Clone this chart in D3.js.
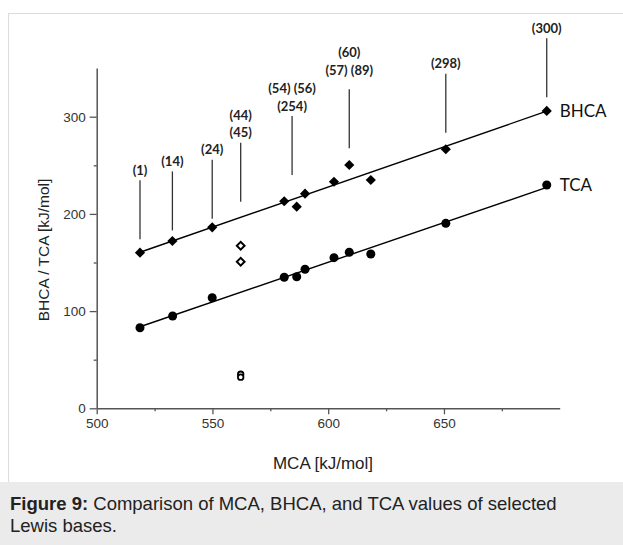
<!DOCTYPE html>
<html><head><meta charset="utf-8">
<script src="https://cdn.jsdelivr.net/npm/d3@7"></script>
<style>
html,body{margin:0;padding:0;background:#fff;}
svg{display:block;}
</style></head>
<body>
<svg id="chart" width="623" height="545"></svg>
<script>
// ---- data ----
const bhcaMCA = [518.7, 532.7, 549.9, 581.0, 586.4, 590.0, 602.5, 609.1, 618.4, 650.8, 694.4];
const bhcaVal = [160.1, 172.1, 186.2, 213.0, 207.4, 220.8, 233.1, 250.3, 234.9, 266.5, 305.9];
const tcaMCA  = [518.7, 532.8, 549.9, 581.0, 586.4, 590.0, 602.5, 609.1, 618.4, 650.8, 694.4];
const tcaVal  = [82.9, 95.0, 113.8, 134.8, 135.4, 143.0, 155.0, 160.5, 158.7, 190.3, 229.7];
const openBhcaMCA = [562.2, 562.2];
const openBhcaVal = [167.3, 150.8];
const openTcaMCA = [562.2, 562.2];
const openTcaVal = [35, 32];
const xMajorTicks = [500, 550, 600, 650];
const xMinorTicks = [525, 575, 625, 675];
const yMajorTicks = [0, 100, 200, 300];
const yMinorTicks = [50, 150, 250];
const annMCA = [518.7, 532.7, 549.9, 562.2, 584.4, 609.1, 650.8, 694.4];
const annBottom = [174, 183, 195, 212.5, 240, 267.5, 283.5, 320];
const annLabels = [["(1)"], ["(14)"], ["(24)"], ["(44)", "(45)"], ["(54) (56)", "(254)"], ["(60)", "(57) (89)"], ["(298)"], ["(300)"]];
const seriesNames = ["BHCA", "TCA"];
const xTitle = "MCA [kJ/mol]";
const yTitle = "BHCA / TCA [kJ/mol]";
const captionBold = "Figure 9:";
const captionLine1 = " Comparison of MCA, BHCA, and TCA values of selected";
const captionLine2 = "Lewis bases.";

// ---- layout ----
const svg = d3.select("#chart");
const x = d3.scaleLinear().domain([500, 700]).range([96.7, 559.7]);
const y = d3.scaleLinear().domain([0, 350]).range([408.3, 68.1]);
const axisColor = "#555";
const last = a => a[a.length - 1];
const labelGap = i => (i === 5 ? 19 : 10);

// frame border
svg.append("rect").attr("x", 8.5).attr("y", 13.5).attr("width", 700).attr("height", 470)
  .attr("fill", "none").attr("stroke", "#dcdcdc").attr("stroke-width", 1);

// caption
svg.append("rect").attr("x", 0).attr("y", 482).attr("width", 623).attr("height", 63).attr("fill", "#ebebeb");
const cap = svg.append("text").attr("x", 10).attr("y", 509.5)
  .attr("font-family", "Liberation Sans, Arial, sans-serif").attr("font-size", 18.5).attr("fill", "#222");
cap.append("tspan").attr("font-weight", "bold").text(captionBold);
cap.append("tspan").text(captionLine1);
svg.append("text").attr("x", 10).attr("y", 532)
  .attr("font-family", "Liberation Sans, Arial, sans-serif").attr("font-size", 18.5).attr("fill", "#222")
  .text(captionLine2);

// axes
function styleAxis(g) {
  g.selectAll("path.domain").attr("stroke", axisColor).attr("stroke-width", 1.5);
  g.selectAll(".tick line").attr("stroke", axisColor).attr("stroke-width", 1.3);
  g.selectAll(".tick text").attr("fill", "#333").attr("font-family", "Liberation Sans, Arial, sans-serif").attr("font-size", 13.5);
}
const gx = svg.append("g").attr("transform", `translate(0,${y(0)})`)
  .call(d3.axisBottom(x).tickValues(xMajorTicks).tickSize(6).tickSizeOuter(0).tickPadding(4).tickFormat(d3.format("d")));
styleAxis(gx);
const gxm = svg.append("g").attr("transform", `translate(0,${y(0)})`)
  .call(d3.axisBottom(x).tickValues(xMinorTicks).tickSize(3).tickFormat(""));
gxm.select("path.domain").remove();
styleAxis(gxm);

const gy = svg.append("g").attr("transform", `translate(${x(500)},0)`)
  .call(d3.axisLeft(y).tickValues(yMajorTicks).tickSize(7).tickSizeOuter(0).tickPadding(4).tickFormat(d3.format("d")));
styleAxis(gy);
const gym = svg.append("g").attr("transform", `translate(${x(500)},0)`)
  .call(d3.axisLeft(y).tickValues(yMinorTicks).tickSize(3).tickFormat(""));
gym.select("path.domain").remove();
styleAxis(gym);

// axis titles
svg.append("text").attr("x", 323).attr("y", 469).attr("text-anchor", "middle")
  .attr("font-family", "Liberation Sans, Arial, sans-serif").attr("font-size", 17).attr("fill", "#222").text(xTitle);
svg.append("text").attr("transform", `translate(49,${250}) rotate(-90)`).attr("text-anchor", "middle")
  .attr("font-family", "Liberation Sans, Arial, sans-serif").attr("font-size", 15.5).attr("fill", "#222").text(yTitle);

// regression lines
function fit(xs, ys) {
  const mx = d3.mean(xs), my = d3.mean(ys);
  let sxy = 0, sxx = 0;
  xs.forEach((v, i) => { sxy += (v - mx) * (ys[i] - my); sxx += (v - mx) * (v - mx); });
  const b = sxy / sxx, a = my - b * mx;
  const x0 = d3.min(xs), x1 = d3.max(xs);
  return [[x0, a + b * x0], [x1, a + b * x1]];
}
const line = d3.line().x(d => x(d[0])).y(d => y(d[1]));
[[bhcaMCA, bhcaVal], [tcaMCA, tcaVal]].forEach(([xs, ys]) => {
  svg.append("path").attr("d", line(fit(xs, ys))).attr("stroke", "#000").attr("stroke-width", 1.4).attr("fill", "none");
});

// markers
const diamond = d3.symbol().type(d3.symbolSquare).size(52)();
const circle = d3.symbol().type(d3.symbolCircle).size(64)();
bhcaMCA.forEach((v, i) => {
  svg.append("path").attr("d", diamond).attr("transform", `translate(${x(v)},${y(bhcaVal[i])}) rotate(45)`).attr("fill", "#000");
});
tcaMCA.forEach((v, i) => {
  svg.append("path").attr("d", circle).attr("transform", `translate(${x(v)},${y(tcaVal[i])})`).attr("fill", "#000");
});
const openDiamond = d3.symbol().type(d3.symbolSquare).size(30)();
openBhcaMCA.forEach((v, i) => {
  svg.append("path").attr("d", openDiamond).attr("transform", `translate(${x(v)},${y(openBhcaVal[i])}) rotate(45)`)
    .attr("fill", "#fff").attr("stroke", "#000").attr("stroke-width", 2);
});
const openCircle = d3.symbol().type(d3.symbolCircle).size(24)();
openTcaMCA.forEach((v, i) => {
  svg.append("path").attr("d", openCircle).attr("transform", `translate(${x(v)},${y(openTcaVal[i])})`)
    .attr("fill", "#fff").attr("stroke", "#000").attr("stroke-width", 1.8);
});

// series labels
svg.append("text").attr("x", x(d3.max(bhcaMCA)) + 13).attr("y", y(last(bhcaVal)) + 6)
  .attr("font-family", "Lato, sans-serif").attr("font-size", 17).attr("fill", "#111").text(seriesNames[0]);
svg.append("text").attr("x", x(d3.max(tcaMCA)) + 13).attr("y", y(last(tcaVal)) + 6)
  .attr("font-family", "Lato, sans-serif").attr("font-size", 17).attr("fill", "#111").text(seriesNames[1]);

// annotations
annMCA.forEach((v, i) => {
  const bx = x(v), by = y(annBottom[i]), top = by - 59;
  svg.append("line").attr("x1", bx).attr("x2", bx).attr("y1", by).attr("y2", top)
    .attr("stroke", "#333").attr("stroke-width", 1.3);
  const labs = annLabels[i];
  labs.forEach((t, j) => {
    const cy = top - labelGap(i) - (labs.length - 1 - j) * 17.5;
    svg.append("text").attr("x", bx).attr("y", cy + 4.5).attr("text-anchor", "middle")
      .attr("font-family", "Lato, sans-serif").attr("font-weight", "bold").attr("font-size", 13)
      .attr("fill", "#222").text(t);
  });
});
</script>
</body></html>
